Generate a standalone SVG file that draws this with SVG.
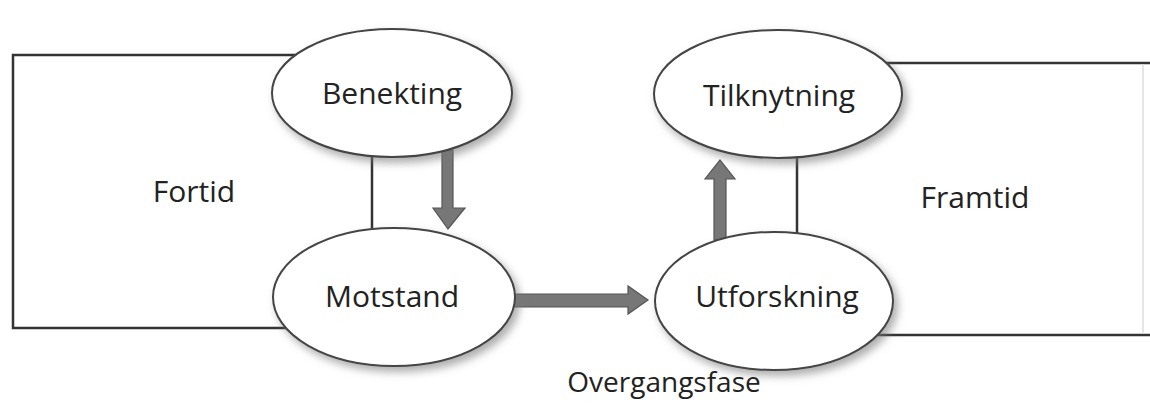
<svg xmlns="http://www.w3.org/2000/svg" width="1150" height="406" viewBox="0 0 1150 406">
  <defs>
    <filter id="shadow" x="-20%" y="-20%" width="150%" height="150%">
      <feDropShadow dx="4" dy="5" stdDeviation="4" flood-color="#777" flood-opacity="0.6"/>
    </filter>
    <style>
      .line { stroke: #333; stroke-width: 2.5; fill: none; }
      .faint { stroke: #ddd; stroke-width: 1.5; fill: none; }
      .node { fill: #fff; stroke: #444; stroke-width: 2; filter: url(#shadow); }
      .arrow { fill: #777; stroke: #555; stroke-width: 1.2; stroke-linejoin: miter; }
      .label { font-family: "Open Sans", "Liberation Sans", sans-serif; font-size: 30px; fill: #222; text-anchor: middle; }
    </style>
  </defs>
  <rect width="1150" height="406" fill="#fff"/>

  <g id="regions">
    <polyline class="line" points="392,55 13,55 13,328 394,328"/>
    <line class="line" x1="372" y1="120" x2="372" y2="260"/>
    <polyline class="line" points="778,63 1150,63"/>
    <polyline class="line" points="774,335 1150,335"/>
    <line class="faint" x1="1143" y1="64" x2="1143" y2="334"/>
    <line class="line" x1="797" y1="120" x2="797" y2="270"/>
  </g>

  <g id="connectors">
    <polygon class="arrow" points="442,150 453,150 453,208 465,208 448,229 433,208 442,208"/>
    <polygon class="arrow" points="714,240 726,240 726,179 735,179 720,160 705,179 714,179"/>
    <polygon class="arrow" points="514,294 628,294 628,286 648,300 628,314 628,307 514,307"/>
  </g>

  <g id="benekting">
    <ellipse class="node" cx="392" cy="93" rx="120" ry="64"/>
    <text class="label" x="392" y="104">Benekting</text>
  </g>
  <g id="motstand">
    <ellipse class="node" cx="394" cy="297" rx="121" ry="69"/>
    <text class="label" x="392" y="307">Motstand</text>
  </g>
  <g id="tilknytning">
    <ellipse class="node" cx="778" cy="94" rx="124" ry="64"/>
    <text class="label" x="779" y="106">Tilknytning</text>
  </g>
  <g id="utforskning">
    <ellipse class="node" cx="774" cy="301" rx="119" ry="69"/>
    <text class="label" x="777" y="307">Utforskning</text>
  </g>

  <g id="fortid">
    <text class="label" x="194" y="202">Fortid</text>
  </g>
  <g id="framtid">
    <text class="label" x="975" y="208">Framtid</text>
  </g>
  <g id="overgangsfase">
    <text class="label" x="664" y="392" style="font-size:28px">Overgangsfase</text>
  </g>
</svg>
